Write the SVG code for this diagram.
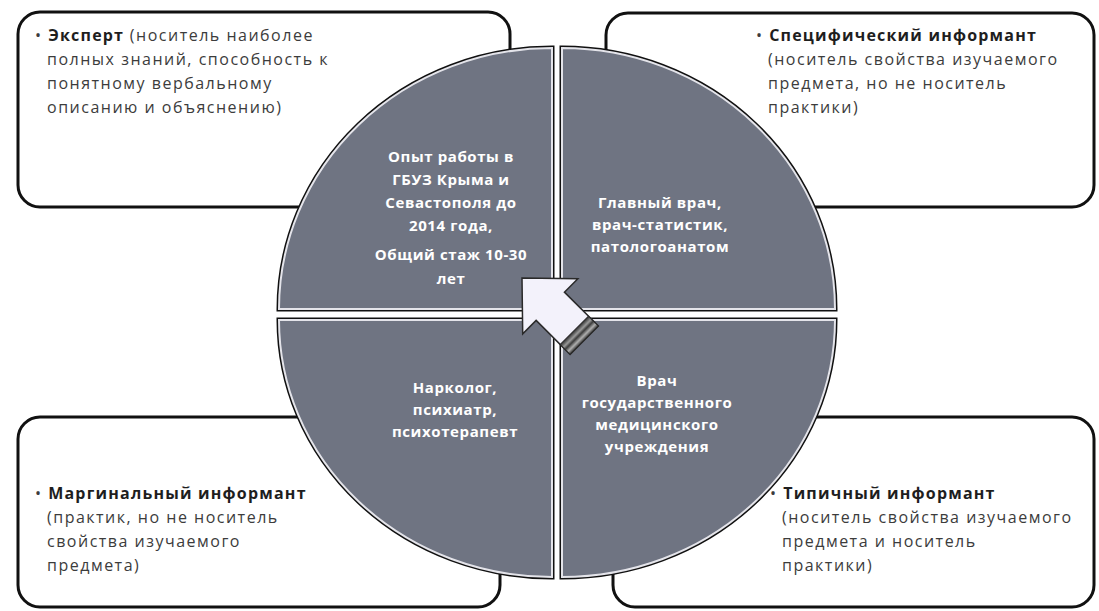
<svg xmlns="http://www.w3.org/2000/svg" width="1099" height="611" viewBox="0 0 1099 611">
  <defs>
    <style>
      .box { fill: #ffffff; stroke: #111111; stroke-width: 3; }
      .qo { fill: none; stroke: #111111; stroke-width: 5; }
      .q { fill: #6f7482; stroke: #e4e4ea; stroke-width: 2; }
      .bt { font-family: "Open Sans", "Noto Sans", sans-serif; font-size: 16px; fill: #3c3c3c; letter-spacing: 1.5px; }
      .bt .h { font-weight: bold; fill: #1e1e1e; letter-spacing: 1.2px; }
      .ct { font-family: "Open Sans", "Noto Sans", sans-serif; font-size: 15px; font-weight: bold; fill: #ffffff; text-anchor: middle; letter-spacing: 0.6px; }
      .arrow { fill: #f3f2fb; stroke: #2a2a2a; stroke-width: 1.5; stroke-linejoin: miter; }
    </style>
    <linearGradient id="tailg" x1="0" y1="0" x2="1" y2="0">
      <stop offset="0" stop-color="#2e2e2e"/>
      <stop offset="0.3" stop-color="#9a9a9a"/>
      <stop offset="0.5" stop-color="#3a3a3a"/>
      <stop offset="0.75" stop-color="#b0b0b0"/>
      <stop offset="1" stop-color="#333333"/>
    </linearGradient>
  </defs>

  <rect width="1099" height="611" fill="#ffffff"/>

  <!-- corner boxes -->
  <g id="box-expert">
    <rect class="box" x="18" y="12" width="492" height="195" rx="22"/>
    <text class="bt" x="35" y="41"><tspan>• </tspan><tspan class="h">Эксперт</tspan> (носитель наиболее</text>
    <text class="bt" x="47" y="65">полных знаний, способность к</text>
    <text class="bt" x="47" y="89">понятному вербальному</text>
    <text class="bt" x="47" y="113">описанию и объяснению)</text>
  </g>

  <g id="box-specific">
    <rect class="box" x="606" y="13" width="488" height="194" rx="22"/>
    <text class="bt" x="756" y="41"><tspan>• </tspan><tspan class="h">Специфический информант</tspan></text>
    <text class="bt" x="768" y="65">(носитель свойства изучаемого</text>
    <text class="bt" x="768" y="89">предмета, но не носитель</text>
    <text class="bt" x="768" y="113">практики)</text>
  </g>

  <g id="box-marginal">
    <rect class="box" x="18" y="417" width="482" height="190" rx="22"/>
    <text class="bt" x="35" y="499"><tspan>• </tspan><tspan class="h">Маргинальный информант</tspan></text>
    <text class="bt" x="47" y="523">(практик, но не носитель</text>
    <text class="bt" x="47" y="547">свойства изучаемого</text>
    <text class="bt" x="47" y="571">предмета)</text>
  </g>

  <g id="box-typical">
    <rect class="box" x="613" y="417" width="481" height="190" rx="22"/>
    <text class="bt" x="770" y="499"><tspan>• </tspan><tspan class="h">Типичный информант</tspan></text>
    <text class="bt" x="782" y="523">(носитель свойства изучаемого</text>
    <text class="bt" x="782" y="547">предмета и носитель</text>
    <text class="bt" x="782" y="571">практики)</text>
  </g>

  <!-- circle quadrants -->
  <g id="q-experience">
    <path class="qo" d="M552,309 L279,309 A273,261 0 0 1 552,48 Z"/>
    <path class="q" d="M552,309 L279,309 A273,261 0 0 1 552,48 Z"/>
    <text class="ct" x="451" y="162">Опыт работы в</text>
    <text class="ct" x="451" y="185">ГБУЗ Крыма и</text>
    <text class="ct" x="451" y="208">Севастополя до</text>
    <text class="ct" x="451" y="231">2014 года,</text>
    <text class="ct" x="451" y="260">Общий стаж 10-30</text>
    <text class="ct" x="451" y="284">лет</text>
  </g>

  <g id="q-chief">
    <path class="qo" d="M562,309 L562,48 A273,261 0 0 1 835,309 Z"/>
    <path class="q" d="M562,309 L562,48 A273,261 0 0 1 835,309 Z"/>
    <text class="ct" x="660" y="208">Главный врач,</text>
    <text class="ct" x="660" y="230">врач-статистик,</text>
    <text class="ct" x="660" y="252">патологоанатом</text>
  </g>

  <g id="q-narcologist">
    <path class="qo" d="M552,320 L552,577 A273,257 0 0 1 279,320 Z"/>
    <path class="q" d="M552,320 L552,577 A273,257 0 0 1 279,320 Z"/>
    <text class="ct" x="455" y="393">Нарколог,</text>
    <text class="ct" x="455" y="415">психиатр,</text>
    <text class="ct" x="455" y="437">психотерапевт</text>
  </g>

  <g id="q-doctor">
    <path class="qo" d="M562,320 L835,320 A273,257 0 0 1 562,577 Z"/>
    <path class="q" d="M562,320 L835,320 A273,257 0 0 1 562,577 Z"/>
    <text class="ct" x="657" y="386">Врач</text>
    <text class="ct" x="657" y="408">государственного</text>
    <text class="ct" x="657" y="430">медицинского</text>
    <text class="ct" x="657" y="452">учреждения</text>
  </g>

  <!-- central arrow -->
  <g id="connectors">
    <g id="center-arrow" transform="translate(522,278) rotate(45)">
      <polygon class="arrow" points="0,0 40,-39 40,-20 88,-20 88,20 40,20 40,39"/>
      <rect x="74" y="-20" width="14" height="40" fill="url(#tailg)" stroke="#2a2a2a" stroke-width="1"/>
    </g>
  </g>
</svg>
